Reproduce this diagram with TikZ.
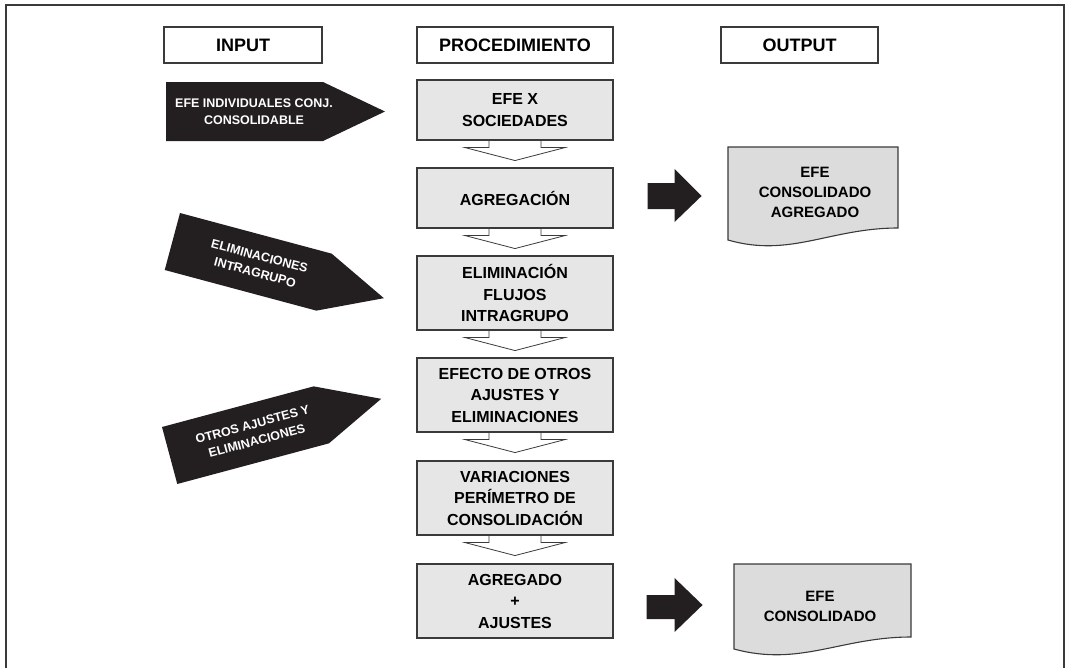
\documentclass[tikz,border=0pt]{standalone}
\usepackage{fontspec}
\setmainfont{Liberation Sans}
\usetikzlibrary{backgrounds}
\definecolor{linea}{HTML}{3A3A3A}
\definecolor{caja}{HTML}{E6E6E6}
\definecolor{hoja}{HTML}{DCDCDC}
\definecolor{negro}{HTML}{231F20}
\tikzset{
  titulo/.style={draw=linea,line width=1.1pt,fill=white,minimum width=#1,minimum height=36,
    font=\fontsize{18}{20}\selectfont\bfseries},
  proceso/.style={draw=linea,line width=1.1pt,fill=caja,minimum width=196,minimum height=#1,
    align=center,font=\fontsize{16}{21.5}\selectfont\bfseries},
  bajada/.style={draw=linea,line width=.8pt,fill=white},
  salida/.style={draw=linea,line width=1.1pt,fill=hoja},
  doctexto/.style={align=center,font=\fontsize{15}{20}\selectfont\bfseries},
  rotulo/.style={text=white,align=center,font=\fontsize{12.5}{17}\selectfont\bfseries},
}
\begin{document}
\begin{tikzpicture}[x=1pt,y=-1pt]
  \clip (0,0) rectangle (1067,667);
  \draw[linea,line width=1.5pt] (6,700)--(6,5)--(1064,5)--(1064,700);
  % cabeceras
  \node[titulo=158] (input) at (243,45) {INPUT};
  \node[titulo=196] (proc) at (515,45) {PROCEDIMIENTO};
  \node[titulo=157] (output) at (799.5,45) {OUTPUT};
  % procedimiento
  \node[proceso=60] (efe) at (515,110) {EFE X\\SOCIEDADES};
  \node[proceso=60] (agr) at (515,198) {AGREGACIÓN};
  \node[proceso=74] (eli) at (515,293) {ELIMINACIÓN\\FLUJOS\\INTRAGRUPO};
  \node[proceso=74] (efo) at (515,395) {EFECTO DE OTROS\\AJUSTES Y\\ELIMINACIONES};
  \node[proceso=74] (var) at (515,498) {VARIACIONES\\PERÍMETRO DE\\CONSOLIDACIÓN};
  \node[proceso=74] (agd) at (515,601) {AGREGADO\\+\\AJUSTES};
  \begin{pgfonlayer}{background}
    \foreach \n in {efe,agr,eli,efo,var}
      \draw[bajada] ([xshift=-26]\n.south) -- ++(0,7) -- ++(-24,0) -- ++(50,13)
        -- ++(50,-13) -- ++(-24,0) -- ++(0,-7);
  \end{pgfonlayer}
  % input
  \begin{scope}[shift={(166,82)},transform shape]
    \fill[negro] (0,0)--(157,0)--(219,29.5)--(157,59)--(0,59)--cycle;
    \node[rotulo] (conj) at (88,29.5) {EFE INDIVIDUALES CONJ.\\CONSOLIDABLE};
  \end{scope}
  \begin{scope}[shift={(180,213)},rotate=-15,transform shape]
    \fill[negro] (0,0)--(157,0)--(219,29.5)--(157,59)--(0,59)--cycle;
    \node[rotulo] (intra) at (88,29.5) {ELIMINACIONES\\INTRAGRUPO};
  \end{scope}
  \begin{scope}[shift={(162,427)},rotate=15,transform shape]
    \fill[negro] (0,0)--(157,0)--(219,29.5)--(157,59)--(0,59)--cycle;
    \node[rotulo] (otros) at (88,29.5) {OTROS AJUSTES Y\\ELIMINACIONES};
  \end{scope}
  % output
  \draw[salida] (728,147)--(898,147)--(898,228) .. controls (830,228) and (790,258) .. (728,240)--cycle;
  \node[doctexto] (consagr) at (815,192) {EFE\\CONSOLIDADO\\AGREGADO};
  \draw[salida] (734,564)--(911,564)--(911,637) .. controls (841,637) and (800,667) .. (734,649)--cycle;
  \node[doctexto] (cons) at (820,606) {EFE\\CONSOLIDADO};
  \fill[negro] (agr.east) ++(34,-15) -- ++(27,0) -- ++(0,-14) -- ++(27,27) -- ++(-27,26)
    -- ++(0,-13) -- ++(-27,0) -- cycle;
  \fill[negro] (agd.east) ++(33,-6) -- ++(28,0) -- ++(0,-17) -- ++(28,27) -- ++(-28,27)
    -- ++(0,-13) -- ++(-28,0) -- cycle;
\end{tikzpicture}
\end{document}
